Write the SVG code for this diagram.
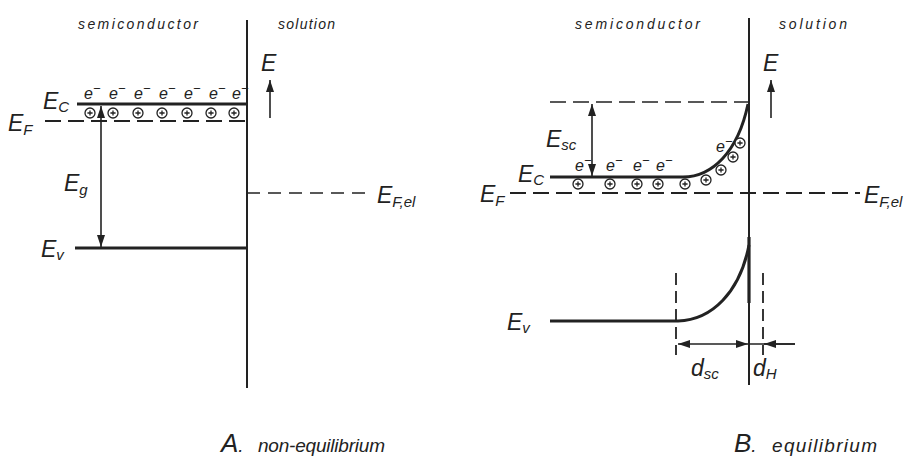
<svg xmlns="http://www.w3.org/2000/svg" width="917" height="467" viewBox="0 0 917 467">
<style>
text{font-family:"Liberation Sans","DejaVu Sans",sans-serif;font-style:italic;fill:#222}
.hdr{font-size:14px}
.lbl{font-size:23px}
.sub{font-size:15px}
.el{font-size:16px}
.sup{font-size:13px}
.cap{font-size:19px}
.big{font-size:26px}
.ln{stroke:#222;fill:none}
.thin{stroke-width:1.6}
.thick{stroke-width:3}
.dash{stroke-dasharray:16 7;stroke-width:1.8}
</style>
<defs>
<marker id="ah" viewBox="0 0 12 8" refX="12" refY="4" markerWidth="12" markerHeight="8" markerUnits="userSpaceOnUse" orient="auto-start-reverse">
<path d="M0 0 L12 4 L0 8 Z" fill="#222"/>
</marker>
<g id="hp"><circle r="5" fill="#fff" stroke="#222" stroke-width="1.3"/><path d="M-2.6 0 H2.6 M0 -2.6 V2.6" stroke="#222" stroke-width="1.3"/></g>
</defs>
<rect width="917" height="467" fill="#fff"/>

<g id="connectors">
<!-- Panel A -->
<path class="ln" stroke-width="2" d="M247 20 V388"/>
<path class="ln thick" d="M77 104 H247"/>
<path class="ln dash" d="M45 121 H247"/>
<path class="ln dash" d="M247 193 H370" style="stroke-dasharray:13 8;stroke-width:1.5"/>
<path class="ln thick" d="M75 248 H247"/>
<path class="ln thin" d="M101 106 V247" marker-start="url(#ah)" marker-end="url(#ah)"/>
<path class="ln thin" d="M270 118 V80" marker-end="url(#ah)"/>
<!-- Panel B -->
<path class="ln" stroke-width="2" d="M749 18 V385"/>
<path class="ln" stroke-width="3.2" d="M749 237 V303"/>
<path class="ln dash" d="M550 102 H749" style="stroke-width:1.5"/>
<path class="ln thick" d="M550 177 H683 C712 177 738 152 748 104"/>
<path class="ln dash" d="M510 193 H860"/>
<path class="ln thick" d="M550 321 H678 C712 320 740 292 749 245"/>
<path class="ln" stroke-width="1.8" stroke-dasharray="12 6" d="M676 273 V355"/>
<path class="ln" stroke-width="1.8" stroke-dasharray="12 6" d="M763 273 V355"/>
<path class="ln thin" d="M592 104 V176" marker-start="url(#ah)" marker-end="url(#ah)"/>
<path class="ln thin" d="M771 118 V80" marker-end="url(#ah)"/>
<path class="ln thin" d="M678 344 H748" marker-start="url(#ah)" marker-end="url(#ah)"/>
<path class="ln thin" d="M749 344 H795"/>
<path class="ln thin" d="M795 344 H764" marker-end="url(#ah)"/>
</g>

<g id="panelA">
<text class="hdr" x="78" y="29" textLength="120" lengthAdjust="spacing">semiconductor</text>
<text class="hdr" x="278" y="29" textLength="57" lengthAdjust="spacing">solution</text>
<text class="lbl" x="261" y="71">E</text>
<text class="lbl" x="43" y="109">E<tspan class="sub" dy="3">C</tspan></text>
<text class="lbl" x="8" y="131">E<tspan class="sub" dy="4">F</tspan></text>
<text class="lbl" x="64" y="191">E<tspan class="sub" dy="4">g</tspan></text>
<text class="lbl" x="41" y="257">E<tspan class="sub" dy="3">v</tspan></text>
<text class="lbl" x="377" y="203">E<tspan class="sub" dy="4">F,el</tspan></text>
<g id="electronsA" class="el">
<text x="84" y="99">e<tspan class="sup" dy="-6">−</tspan></text>
<text x="109" y="99">e<tspan class="sup" dy="-6">−</tspan></text>
<text x="134" y="99">e<tspan class="sup" dy="-6">−</tspan></text>
<text x="159" y="99">e<tspan class="sup" dy="-6">−</tspan></text>
<text x="184" y="99">e<tspan class="sup" dy="-6">−</tspan></text>
<text x="209" y="99">e<tspan class="sup" dy="-6">−</tspan></text>
<text x="232" y="99">e<tspan class="sup" dy="-6">−</tspan></text>
</g>
<g id="holesA">
<use href="#hp" x="90" y="113"/>
<use href="#hp" x="113" y="113"/>
<use href="#hp" x="138" y="113"/>
<use href="#hp" x="162" y="113"/>
<use href="#hp" x="187" y="113"/>
<use href="#hp" x="211" y="113"/>
<use href="#hp" x="234" y="113"/>
</g>
<text class="big" x="221" y="452">A<tspan class="cap">.</tspan></text>
<text class="cap" x="258" y="452" textLength="127" lengthAdjust="spacing">non-equilibrium</text>
</g>

<g id="panelB">
<text class="hdr" x="575" y="29" textLength="125" lengthAdjust="spacing">semiconductor</text>
<text class="hdr" x="779" y="29" textLength="68" lengthAdjust="spacing">solution</text>
<text class="lbl" x="763" y="71">E</text>
<text class="lbl" x="546" y="147">E<tspan class="sub" dy="3">sc</tspan></text>
<text class="lbl" x="518" y="182">E<tspan class="sub" dy="3">C</tspan></text>
<text class="lbl" x="480" y="202">E<tspan class="sub" dy="4">F</tspan></text>
<text class="lbl" x="864" y="203">E<tspan class="sub" dy="4">F,el</tspan></text>
<text class="lbl" x="507" y="330">E<tspan class="sub" dy="3">v</tspan></text>
<text class="lbl" x="691" y="376">d<tspan class="sub" dy="3">sc</tspan></text>
<text class="lbl" x="753" y="376">d<tspan class="sub" dy="3">H</tspan></text>
<g id="electronsB" class="el">
<text x="575" y="171">e<tspan class="sup" dy="-6">−</tspan></text>
<text x="606" y="171">e<tspan class="sup" dy="-6">−</tspan></text>
<text x="633" y="171">e<tspan class="sup" dy="-6">−</tspan></text>
<text x="656" y="171">e<tspan class="sup" dy="-6">−</tspan></text>
<text x="716" y="152">e<tspan class="sup" dy="-6">−</tspan></text>
</g>
<g id="holesB">
<use href="#hp" x="578" y="184"/>
<use href="#hp" x="610" y="184"/>
<use href="#hp" x="637" y="184"/>
<use href="#hp" x="658" y="184"/>
<use href="#hp" x="685" y="184"/>
<use href="#hp" x="706" y="180"/>
<use href="#hp" x="721" y="170"/>
<use href="#hp" x="733" y="157"/>
<use href="#hp" x="740" y="143"/>
</g>
<text class="big" x="734" y="452">B<tspan class="cap">.</tspan></text>
<text class="cap" x="772" y="452" textLength="105" lengthAdjust="spacing">equilibrium</text>
</g>
</svg>
